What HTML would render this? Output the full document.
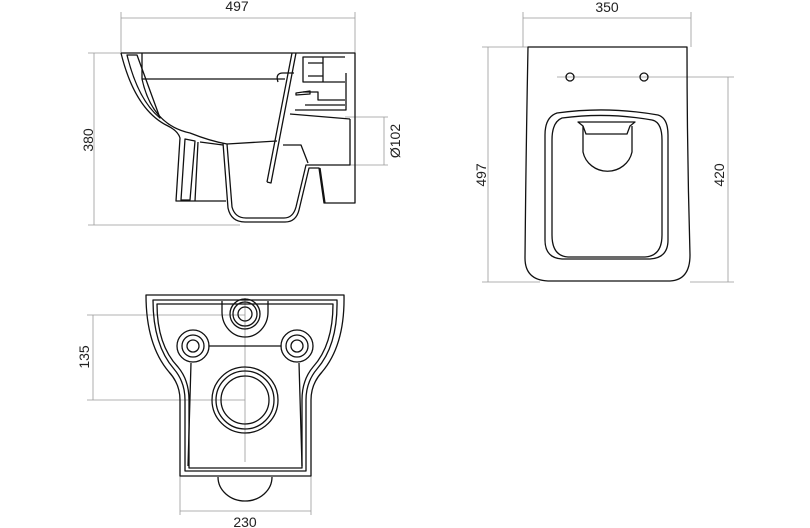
<!DOCTYPE html>
<html><head><meta charset="utf-8"><style>
html,body{margin:0;padding:0;background:#fff;width:810px;height:528px;overflow:hidden}
svg{display:block}
text{font-family:"Liberation Sans",sans-serif;font-size:14px;fill:#222}
</style></head><body>
<svg width="810" height="528" viewBox="0 0 810 528" xmlns="http://www.w3.org/2000/svg">
<g fill="none" stroke="#999" stroke-width="0.8">
<path d="M121,12 V53 M355,12 V53 M121,18 H355"/>
<path d="M88,53 H121 M88,225 H240 M94,53 V225"/>
<path d="M345,117 H388 M345,165 H388 M384,117 V165"/>
<path d="M87,315 H245 M87,400 H245 M93,315 V400"/>
<path d="M180,476 V515 M311,476 V515 M180,511 H311"/>
<path d="M245,298 V462 M208,346 H282"/>
<path d="M523,12 V47 M691,12 V47 M523,18 H691"/>
<path d="M482,47 H528 M482,282 H540 M488,47 V282"/>
<path d="M557,77 H734 M690,282 H734 M728,77 V282"/>
</g>
<g fill="none" stroke="#111" stroke-width="1.3" stroke-linejoin="round">
<path d="M121,53 H355 V203 H324 L319,168 H309 L299,210 Q296,222 285,222 L245,222 Q231,222 228,208 L223,143"/>
<path d="M121,53 Q135,110 168,126 Q178,131 180,138 L176,201 H226"/>
<path d="M127,55 H137 L160,118 Q138,100 127,55 Z"/>
<path d="M142,53 V79 Q152,125 190,133 Q210,141 227,144 L232,207 Q235,218 246,218 L284,218 Q293,218 296,207 L306,165 L350,165 V119"/>
<path d="M142,79 H285"/>
<path d="M185,139 L181,200 H190 L195,141 Z"/>
<path d="M198,142 L195,201 M223,145 L200,142"/>
<path d="M227,144 L277,141"/>
<path d="M267,182 L271,183 L296,53 M267,182 L292,53"/>
<path d="M283,145 H301 L308,163"/>
<path d="M290,114 L350,119 M295,110 H346 V73"/>
<path d="M305,105 H345 M303,92 H318 V100 H345"/>
<path d="M303,57 H323 V82 H303 Z M323,57 H345 M323,82 H345 M308,63 H323 M308,76 H323"/>
<path d="M294,73 H283 Q275,73 278,82"/>
<path d="M296,93 L310,91 L310,94 L296,95 Z"/>
<path d="M320,168 L325,203"/>

<path d="M146,295 H344 Q345,345 322,372 Q311,384 311,400 V476 H180 V400 Q180,384 169,372 Q146,345 146,295 Z"/>
<path d="M153,300 H337 Q338,345 317,369 Q306,382 306,400 V471 H185 V400 Q185,382 174,369 Q153,345 153,300 Z"/>
<path d="M157,304 H333 Q333,345 313,367 Q302,380 302,400 V468 H189 V400 Q189,380 178,367 Q157,345 157,304 Z"/>
<path d="M222,301 V312 A23,25 0 0 0 268,312 V301"/>
<circle cx="245" cy="314" r="15"/><circle cx="245" cy="314" r="12"/><circle cx="245" cy="314" r="7"/>
<circle cx="193" cy="346" r="16"/><circle cx="193" cy="346" r="11"/><circle cx="193" cy="346" r="6"/>
<circle cx="297" cy="346" r="16"/><circle cx="297" cy="346" r="11"/><circle cx="297" cy="346" r="6"/>
<path d="M209,346 H281"/>
<path d="M191,363 L188,466 M299,363 L302,466"/>
<circle cx="245" cy="400" r="33"/><circle cx="245" cy="400" r="29"/><circle cx="245" cy="400" r="24"/>
<path d="M218,477 A27,24 0 0 0 272,477"/>

<path d="M528,47 H687 Q687,150 690,255 Q690,280 670,281 H548 Q525,280 525,258 Q526,150 528,47 Z"/>
<circle cx="570" cy="77" r="4"/><circle cx="644" cy="77" r="4"/>
<path d="M557,113 Q607,106 658,115 Q668,118 668,135 L668,240 Q668,258 650,259 H562 Q545,258 545,240 L545,135 Q545,117 557,113 Z"/>
<path d="M562,118 Q607,112 652,120 Q662,122 662,140 L662,235 Q662,256 645,257 H568 Q552,256 552,235 L552,140 Q552,122 562,118 Z"/>
<path d="M578,122 H635 L630,126 L627,134 H586 L583,126 Z"/>
<path d="M583,126 V152 A25,24 0 0 0 632,152 V126"/>
</g>
<text x="237" y="11" text-anchor="middle">497</text>
<text x="607" y="12" text-anchor="middle">350</text>
<text x="245" y="527" text-anchor="middle">230</text>
<text transform="translate(93,140) rotate(-90)" text-anchor="middle">380</text>
<text transform="translate(400,141) rotate(-90)" text-anchor="middle">Ø102</text>
<text transform="translate(89,357) rotate(-90)" text-anchor="middle">135</text>
<text transform="translate(486,175) rotate(-90)" text-anchor="middle">497</text>
<text transform="translate(724,175) rotate(-90)" text-anchor="middle">420</text>
</svg>
</body></html>
